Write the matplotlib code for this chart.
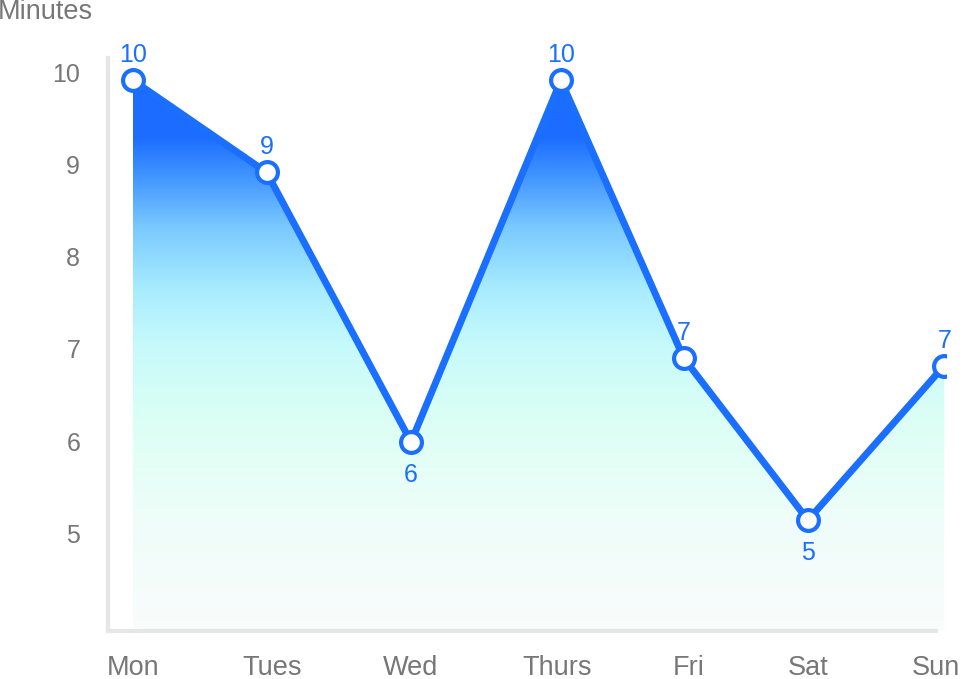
import numpy as np
import matplotlib.pyplot as plt
from matplotlib.colors import LinearSegmentedColormap

days = ['Mon', 'Tues', 'Wed', 'Thurs', 'Fri', 'Sat', 'Sun']
day_pos = [0, 0.99, 2.06, 3.17, 4.08, 5.0, 6.01]
minutes = [9.92, 8.92, 5.99, 9.92, 6.90, 5.14, 6.82]
shown = [10, 9, 6, 10, 7, 5, 7]
label_below = [False, False, True, False, False, True, False]

blue = '#1a6fff'
gray = '#777777'
plt.rcParams['font.family'] = ['Liberation Sans', 'DejaVu Sans']

fig = plt.figure(figsize=(9.64, 6.79), dpi=100)
ax = fig.add_axes([0.112, 0.0707, 0.869, 0.8439])
ymin, ymax = 3.935, 10.163
xmin, xmax = -0.185, 6.02
ax.set_xlim(xmin, xmax)
ax.set_ylim(ymin, ymax)

# gradient under the line
stops = [(0.0, '#f9fcfc'), (0.20, '#effdf9'), (0.38, '#dcfff4'),
         (0.52, '#c6fafb'), (0.62, '#a8ecff'), (0.73, '#7ccbff'),
         (0.83, '#3f93ff'), (0.90, '#1b6cff'), (1.0, '#1b6cff')]
cmap = LinearSegmentedColormap.from_list('grad', stops)
grad = np.linspace(0, 1, 256).reshape(-1, 1)
img = ax.imshow(grad, cmap=cmap, aspect='auto', origin='lower',
                extent=[day_pos[0], day_pos[-1], ymin, 9.92], zorder=1)
poly = ax.fill_between(day_pos, minutes, ymin, color='none', lw=0)
img.set_clip_path(poly.get_paths()[0], transform=ax.transData)

ax.plot(day_pos, minutes, color=blue, lw=5, zorder=3, solid_joinstyle='miter')
ax.plot(day_pos, minutes, 'o', ms=15, mfc='white', mec=blue, mew=3, zorder=4)

for x, y, s, below in zip(day_pos, minutes, shown, label_below):
    off = -33 if below else 25
    ax.annotate(str(s), (x, y), xytext=(0, off), textcoords='offset pixels',
                ha='center', va='center', color=blue, fontsize=18, zorder=5)

for side in ['top', 'right']:
    ax.spines[side].set_visible(False)
for side in ['left', 'bottom']:
    ax.spines[side].set_color('#e6e6e6')
    ax.spines[side].set_linewidth(3)
ax.spines['bottom'].set_bounds(xmin, 5.95)

ax.set_yticks([5, 6, 7, 8, 9, 10])
ax.set_xticks([0, 1.03, 2.06, 3.14, 4.12, 5.0, 5.95])
ax.set_xticklabels(days)
ax.tick_params(length=0, colors=gray, labelsize=18)
ax.tick_params(axis='x', labelsize=19.5)
ax.tick_params(axis='y', pad=20)
ax.tick_params(axis='x', pad=17)
fig.text(-0.002, 0.982, 'Minutes', color=gray, fontsize=19.5, ha='left', va='center')

fig.savefig('out.png', dpi=100)
